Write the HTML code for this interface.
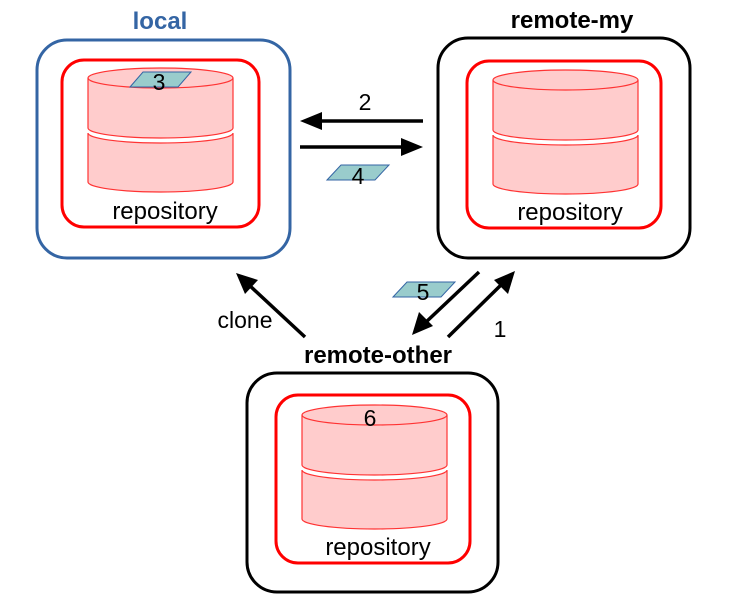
<!DOCTYPE html>
<html><head><meta charset="utf-8"><style>
html,body{margin:0;padding:0;background:#fff;}
svg text{font-family:"Liberation Sans",sans-serif;}
</style></head><body>
<svg width="734" height="611" viewBox="0 0 734 611" xmlns="http://www.w3.org/2000/svg">
<defs>
<g id="cyl">
<path d="M0,0 A72.5,10 0 0 1 145,0 V50 A72.5,10 0 0 1 0,50 Z" fill="#ffcccc" stroke="#ff3333" stroke-width="1.2"/>
<path d="M0,0 A72.5,10 0 0 0 145,0" fill="none" stroke="#ff3333" stroke-width="1.2"/>
<path d="M0,55 A72.5,10 0 0 0 145,55 V104 A72.5,10 0 0 1 0,104 Z" fill="#ffcccc" stroke="#ff3333" stroke-width="1.2"/>
</g>
</defs>

<!-- local -->
<text x="160" y="29" font-size="24" font-weight="bold" fill="#3465a4" text-anchor="middle">local</text>
<rect x="37" y="40" width="253" height="218" rx="30" fill="none" stroke="#3465a4" stroke-width="3"/>
<rect x="62" y="60" width="197" height="167" rx="22" fill="none" stroke="#ff0000" stroke-width="3"/>
<use href="#cyl" x="88" y="78"/>
<polygon points="130,87 143,72 191,72 178,87" fill="#99cccc" stroke="#3465a4" stroke-width="1"/>
<text x="159" y="90" font-size="23" text-anchor="middle">3</text>
<text x="165" y="219" font-size="24" text-anchor="middle">repository</text>

<!-- remote-my -->
<text x="572" y="28" font-size="24" font-weight="bold" text-anchor="middle">remote-my</text>
<rect x="438" y="38" width="252" height="220" rx="30" fill="none" stroke="#000" stroke-width="3"/>
<rect x="467" y="61" width="194" height="167" rx="22" fill="none" stroke="#ff0000" stroke-width="3"/>
<use href="#cyl" x="493" y="80"/>
<text x="570" y="220" font-size="24" text-anchor="middle">repository</text>

<!-- remote-other -->
<text x="378" y="363" font-size="24" font-weight="bold" text-anchor="middle">remote-other</text>
<rect x="247" y="373" width="251" height="219" rx="30" fill="none" stroke="#000" stroke-width="3"/>
<rect x="276" y="395" width="194" height="168" rx="22" fill="none" stroke="#ff0000" stroke-width="3"/>
<use href="#cyl" x="302" y="415"/>
<text x="370" y="426" font-size="23" text-anchor="middle">6</text>
<text x="378" y="555" font-size="24" text-anchor="middle">repository</text>

<!-- arrows -->
<g stroke="#000" stroke-width="3.5" fill="none">
<line x1="423" y1="121" x2="318" y2="121"/>
<line x1="300" y1="147" x2="405" y2="147"/>
<line x1="305" y1="337" x2="249" y2="285"/>
<line x1="479" y1="272" x2="425" y2="323"/>
<line x1="448" y1="337" x2="502" y2="284"/>
</g>
<g fill="#000">
<polygon points="300,121 322,112 322,130"/>
<polygon points="423,147 401,138 401,156"/>
<polygon points="236,273 258,280 245,294"/>
<polygon points="412,335 419,312 433,326"/>
<polygon points="515,271 508,294 494,280"/>
</g>
<text x="365" y="110" font-size="23" text-anchor="middle">2</text>
<polygon points="327,180 341,165 389,165 375,180" fill="#99cccc" stroke="#3465a4" stroke-width="1"/>
<text x="358" y="184" font-size="23" text-anchor="middle">4</text>
<polygon points="393,297 407,282 455,282 441,297" fill="#99cccc" stroke="#3465a4" stroke-width="1"/>
<text x="423" y="300" font-size="23" text-anchor="middle">5</text>
<text x="245" y="328" font-size="23" text-anchor="middle">clone</text>
<text x="500" y="337" font-size="23" text-anchor="middle">1</text>
</svg>
</body></html>
